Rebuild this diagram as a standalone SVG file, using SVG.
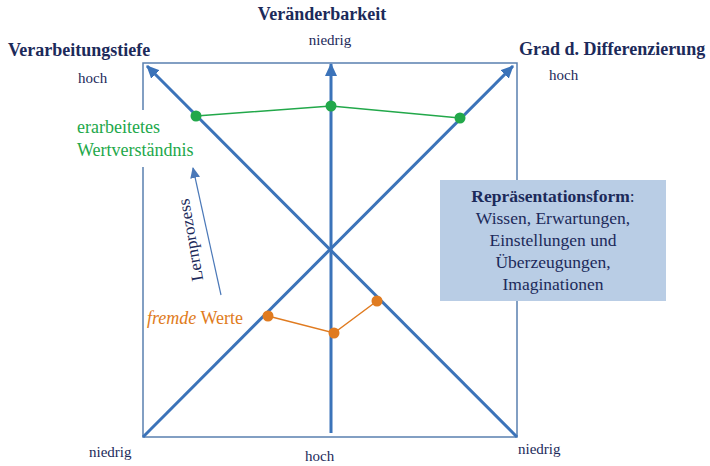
<svg xmlns="http://www.w3.org/2000/svg" width="710" height="466" viewBox="0 0 710 466">
<style>
text{font-family:"Liberation Serif","Times New Roman",serif;}
.title{font-weight:bold;font-size:18px;fill:#1c2a5a;}
.lbl{font-size:15px;fill:#1c2a5a;}
.frame{fill:none;stroke:#5a80b0;stroke-width:1.5;}
.axis{stroke:#3b73b9;stroke-width:3;fill:none;}
.green{fill:#22a84a;}
.orange{fill:#e07b20;}
.boxt{font-size:17.5px;fill:#1c2a5a;text-anchor:middle;}
</style>
<defs>
<marker id="ah" markerUnits="userSpaceOnUse" markerWidth="14" markerHeight="12" refX="12" refY="6" orient="auto">
<path d="M0,0 L13,6 L0,12 Z" fill="#3b73b9"/>
</marker>
<marker id="ahs" markerUnits="userSpaceOnUse" markerWidth="12" markerHeight="10" refX="10" refY="5" orient="auto">
<path d="M0,0 L11,5 L0,10 Z" fill="#4a78b8"/>
</marker>
</defs>
<g id="frame">
<path class="frame" d="M143,110 V63 H517 V180 M517,301 V437 H143 V167"/>
</g>
<g id="connectors">
<line class="axis" x1="143" y1="437" x2="513" y2="66" marker-end="url(#ah)"/>
<line class="axis" x1="517" y1="437" x2="147" y2="66" marker-end="url(#ah)"/>
<line class="axis" x1="331" y1="433" x2="331" y2="64" marker-end="url(#ah)"/>
<polyline points="196,116 331,106 460,118" fill="none" stroke="#22a84a" stroke-width="1.5"/>
<polyline points="268,316 334,333 377,301" fill="none" stroke="#e07b20" stroke-width="1.5"/>
<line x1="221" y1="295" x2="193" y2="168" stroke="#4a78b8" stroke-width="1.2" marker-end="url(#ahs)"/>
</g>
<g id="green-points">
<circle class="green" cx="196" cy="116" r="5.5"/>
<circle class="green" cx="331" cy="106" r="5.5"/>
<circle class="green" cx="460" cy="118" r="5.5"/>
</g>
<g id="orange-points">
<circle class="orange" cx="268" cy="316" r="5.5"/>
<circle class="orange" cx="334" cy="333" r="5.5"/>
<circle class="orange" cx="377" cy="301" r="5.5"/>
</g>
<g id="axis-labels">
<text class="title" x="8" y="56">Verarbeitungstiefe</text>
<text class="title" x="322" y="20" text-anchor="middle">Veränderbarkeit</text>
<text class="title" x="519" y="55">Grad d. Differenzierung</text>
<text class="lbl" x="330" y="45" text-anchor="middle">niedrig</text>
<text class="lbl" x="78" y="83">hoch</text>
<text class="lbl" x="549" y="80">hoch</text>
<text class="lbl" x="89" y="457">niedrig</text>
<text class="lbl" x="305" y="461">hoch</text>
<text class="lbl" x="518" y="454">niedrig</text>
</g>
<g id="wert-labels">
<text x="77" y="133" font-size="18" fill="#22a84a">erarbeitetes</text>
<text x="77" y="156" font-size="18" fill="#22a84a">Wertverständnis</text>
<text x="147" y="324" font-size="18" fill="#e07b20"><tspan font-style="italic">fremde</tspan> Werte</text>
<text x="0" y="0" font-size="17" fill="#1c2a5a" text-anchor="middle" transform="translate(196,239) rotate(-100)">Lernprozess</text>
</g>
<g id="repraesentation">
<rect x="440" y="180" width="226" height="121" fill="#b9cde5"/>
<text class="boxt" x="553" y="202"><tspan font-weight="bold">Repräsentationsform</tspan>:</text>
<text class="boxt" x="553" y="224">Wissen, Erwartungen,</text>
<text class="boxt" x="553" y="246">Einstellungen und</text>
<text class="boxt" x="553" y="268">Überzeugungen,</text>
<text class="boxt" x="553" y="290">Imaginationen</text>
</g>
</svg>
